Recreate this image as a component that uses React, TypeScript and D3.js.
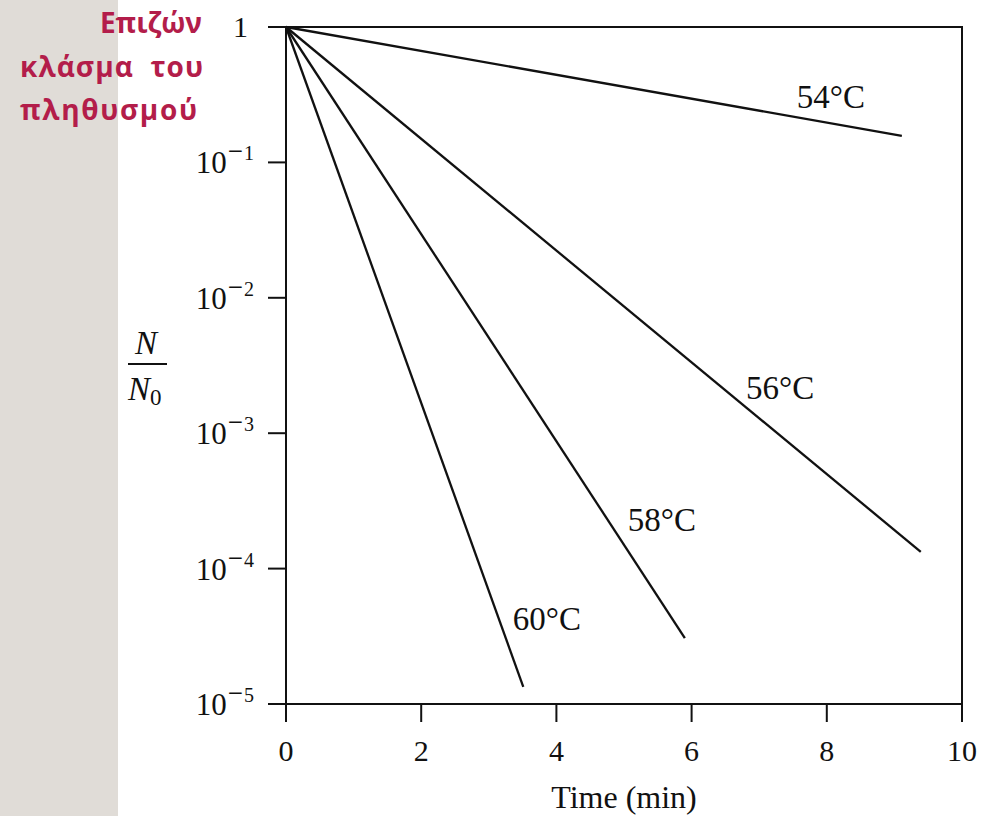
import React, { useEffect, useRef } from 'react';
import * as d3 from 'd3';

// survival curves: straight lines on log scale from (0, 1) to end point
const temps = ['54°C', '56°C', '58°C', '60°C'];
const endTimes = [9.11, 9.39, 5.9, 3.51];
const endFractions = [0.157, 1.33e-4, 3.07e-5, 1.34e-5];
// label anchors (time, fraction)
const labelTimes = [8.06, 7.31, 5.56, 3.86];
const labelFractions = [0.304, 2.16e-3, 2.29e-4, 4.25e-5];

const xTicks = [0, 2, 4, 6, 8, 10];
const yExponents = [0, -1, -2, -3, -4, -5];
const titleLines = ['Επιζών', 'κλάσμα  του', 'πληθυσμού'];

const W = 988;
const H = 816;
const serif = '"Liberation Serif", "DejaVu Serif", serif';

export default function App() {
  const ref = useRef<SVGSVGElement>(null);

  useEffect(() => {
    const svg = d3.select(ref.current);
    svg.selectAll('*').remove();

    const x = d3.scaleLinear().domain([0, 10]).range([286, 962]);
    const y = d3.scaleLog().domain([1e-5, 1]).range([704, 27]);

    svg.append('rect').attr('width', W).attr('height', H).attr('fill', '#fff');
    svg.append('rect').attr('width', 118).attr('height', H).attr('fill', '#e0dcd7');

    // frame
    svg.append('rect')
      .attr('x', x(0)).attr('y', y(1))
      .attr('width', x(10) - x(0)).attr('height', y(1e-5) - y(1))
      .attr('fill', 'none').attr('stroke', '#111').attr('stroke-width', 2);

    // x ticks
    const gx = svg.append('g');
    xTicks.forEach(t => {
      gx.append('line')
        .attr('x1', x(t)).attr('x2', x(t))
        .attr('y1', y(1e-5)).attr('y2', y(1e-5) + 18)
        .attr('stroke', '#111').attr('stroke-width', 2);
      gx.append('text')
        .attr('x', x(t)).attr('y', 761)
        .attr('text-anchor', 'middle')
        .attr('font-family', serif).attr('font-size', 30)
        .attr('fill', '#111')
        .text(t);
    });

    // y ticks
    const gy = svg.append('g');
    yExponents.forEach(e => {
      const yy = y(Math.pow(10, e));
      gy.append('line')
        .attr('x1', x(0) - 18).attr('x2', x(0))
        .attr('y1', yy).attr('y2', yy)
        .attr('stroke', '#111').attr('stroke-width', 2);
      if (e === 0) {
        gy.append('text')
          .attr('x', 248).attr('y', yy + 10)
          .attr('text-anchor', 'end')
          .attr('font-family', serif).attr('font-size', 30)
          .attr('fill', '#111')
          .text('1');
      } else {
        const t = gy.append('text')
          .attr('x', 254).attr('y', yy + 11)
          .attr('text-anchor', 'end')
          .attr('font-family', serif).attr('font-size', 31)
          .attr('fill', '#111');
        t.append('tspan').text('10');
        t.append('tspan').attr('dy', -13).attr('dx', 1).attr('font-size', 27).text('−');
        t.append('tspan').attr('font-size', 20).attr('dx', 1).text(`${-e}`);
      }
    });

    // lines
    const line = d3.line<[number, number]>()
      .x(d => x(d[0]))
      .y(d => y(d[1]));
    temps.forEach((name, i) => {
      svg.append('path')
        .datum([[0, 1], [endTimes[i], endFractions[i]]] as [number, number][])
        .attr('d', line)
        .attr('fill', 'none')
        .attr('stroke', '#111')
        .attr('stroke-width', 2.3);
      svg.append('text')
        .attr('x', x(labelTimes[i])).attr('y', y(labelFractions[i]))
        .attr('text-anchor', 'middle').attr('dominant-baseline', 'central')
        .attr('font-family', serif).attr('font-size', 33)
        .attr('fill', '#111')
        .text(name);
    });

    // axis titles
    svg.append('text')
      .attr('x', 624).attr('y', 808)
      .attr('text-anchor', 'middle')
      .attr('font-family', serif).attr('font-size', 32)
      .attr('fill', '#111')
      .text('Time (min)');

    const frac = svg.append('g').attr('font-family', serif).attr('font-style', 'italic').attr('fill', '#111');
    frac.append('text').attr('x', 146).attr('y', 354).attr('text-anchor', 'middle').attr('font-size', 33).text('N');
    frac.append('line').attr('x1', 128).attr('x2', 167).attr('y1', 364).attr('y2', 364)
      .attr('stroke', '#111').attr('stroke-width', 2);
    const n0 = frac.append('text').attr('x', 128).attr('y', 400).attr('font-size', 33);
    n0.append('tspan').text('N');
    n0.append('tspan').attr('font-style', 'normal').attr('font-size', 23).attr('dy', 5).text('0');

    // greek title (justified block)
    const title = svg.append('g')
      .attr('font-family', '"Open Sans", "Noto Sans", sans-serif')
      .attr('font-weight', 700).attr('font-size', 28)
      .attr('fill', '#b31d4a');
    const starts = [100, 20, 20];
    const lengths = [102, 183, 177];
    titleLines.forEach((l, i) => {
      title.append('text')
        .attr('x', starts[i]).attr('y', 33 + i * 43.5)
        .attr('textLength', lengths[i]).attr('lengthAdjust', 'spacing')
        .attr('xml:space', 'preserve')
        .text(l);
    });
  }, []);

  return (
    <div style={{ position: 'absolute', left: 0, top: 0 }}>
      <svg ref={ref} width={W} height={H} style={{ display: 'block' }} />
    </div>
  );
}
